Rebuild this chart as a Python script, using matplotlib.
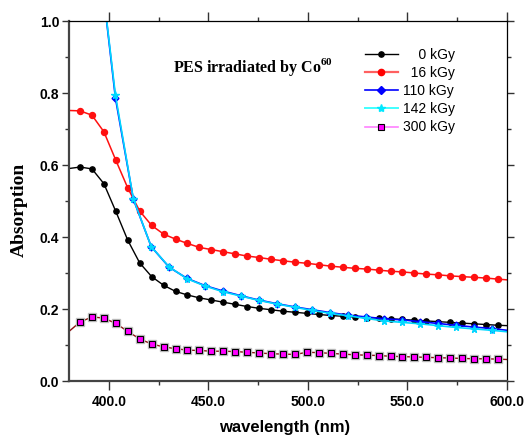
import numpy as np
import matplotlib
matplotlib.use('Agg')
import matplotlib.pyplot as plt
from matplotlib.lines import Line2D

plt.rcParams['mathtext.fontset'] = 'custom'
plt.rcParams['mathtext.rm'] = 'Liberation Serif'
plt.rcParams['mathtext.bf'] = 'Liberation Serif:bold'

# wavelength grids of the markers (nm)
wl6 = np.arange(385.5, 600, 6.0)      # 0, 16, 300 kGy
wl9 = np.arange(403.3, 600, 9.0)      # 110, 142 kGy

# 0 kGy
a0 = [0.595, 0.590, 0.549, 0.472, 0.392, 0.329, 0.291, 0.267, 0.250, 0.240,
      0.232, 0.226, 0.220, 0.214, 0.208, 0.203, 0.199, 0.195, 0.192, 0.189,
      0.186, 0.183, 0.181, 0.179, 0.177, 0.176, 0.174, 0.172, 0.170, 0.168,
      0.166, 0.164, 0.162, 0.160, 0.158, 0.156]
a0_ends = (0.591, 0.155)
# 16 kGy
a16 = [0.751, 0.739, 0.693, 0.614, 0.537, 0.473, 0.433, 0.409, 0.395, 0.383,
       0.372, 0.366, 0.360, 0.354, 0.348, 0.344, 0.339, 0.335, 0.331, 0.328,
       0.324, 0.320, 0.317, 0.314, 0.312, 0.309, 0.306, 0.304, 0.301, 0.298,
       0.296, 0.293, 0.291, 0.289, 0.287, 0.284]
a16_ends = (0.752, 0.282)
# 110 kGy
a110 = [0.787, 0.506, 0.374, 0.317, 0.286, 0.266, 0.251, 0.238, 0.226, 0.216,
        0.207, 0.199, 0.191, 0.184, 0.179, 0.174, 0.171, 0.166, 0.161, 0.156,
        0.151, 0.147]
a110_ends = (1.22, 0.142)
# 142 kGy
a142 = [0.795, 0.507, 0.374, 0.318, 0.285, 0.265, 0.249, 0.237, 0.225, 0.215,
        0.206, 0.197, 0.189, 0.182, 0.175, 0.168, 0.164, 0.160, 0.155, 0.150,
        0.146, 0.142]
a142_ends = (1.22, 0.138)
# 300 kGy
a300 = [0.165, 0.179, 0.176, 0.161, 0.139, 0.118, 0.104, 0.096, 0.091, 0.087,
        0.086, 0.084, 0.084, 0.083, 0.081, 0.079, 0.077, 0.076, 0.075, 0.081,
        0.080, 0.078, 0.076, 0.074, 0.073, 0.072, 0.070, 0.069, 0.068, 0.067,
        0.066, 0.065, 0.064, 0.063, 0.063, 0.062]
a300_ends = (0.139, 0.061)

labels = ['\u2007\u20070 kGy', '\u200716 kGy', '110 kGy', '142 kGy', '300 kGy']


def full(grid, vals, ends, x0):
    x = np.concatenate([[x0], grid, [600.0]])
    y = np.concatenate([[ends[0]], vals, [ends[1]]])
    return x, y, list(range(1, len(grid) + 1))


fig = plt.figure(figsize=(5.27, 4.40), dpi=100)
ax = fig.add_axes([0.131, 0.133, 0.831, 0.819])

x, y, me = full(wl6, a0, a0_ends, 380.0)
ax.plot(x, y, color='black', lw=1.0, marker='o', ms=3.8, markevery=me)
x, y, me = full(wl6, a16, a16_ends, 380.0)
ax.plot(x, y, color='#ff1010', lw=1.1, marker='o', ms=4.3, markevery=me)
x, y, me = full(wl9, a110, a110_ends, 394.3)
ax.plot(x, y, color='#0000ff', lw=1.2, marker='D', ms=3.5, markevery=me)
x, y, me = full(wl9, a142, a142_ends, 394.3)
ax.plot(x, y, color='#00d8ff', lw=1.2, marker='*', ms=5.5, markevery=me)
x, y, me = full(wl6, a300, a300_ends, 380.0)
ax.plot(x, y, color='#8b1010', lw=1.0)
ax.plot(wl6, a300, ls='none', marker='s', ms=6.0, color='#c0c0c0')
ax.plot(wl6, a300, ls='none', marker='s', ms=3.8, mfc='#ff00ff', mec='black', mew=0.8)

ax.set_xlim(380, 600)
ax.set_ylim(0.0, 1.0)
ax.set_xticks([400, 450, 500, 550, 600])
ax.set_xticks([425, 475, 525, 575], minor=True)
ax.set_yticks([0.0, 0.2, 0.4, 0.6, 0.8, 1.0])
ax.set_yticks([0.1, 0.3, 0.5, 0.7, 0.9], minor=True)
ax.set_xticklabels(['%.1f' % v for v in [400, 450, 500, 550, 600]])
ax.set_yticklabels(['%.1f' % v for v in [0.0, 0.2, 0.4, 0.6, 0.8, 1.0]])
for t in ax.get_xticklabels() + ax.get_yticklabels():
    t.set_fontfamily('Liberation Sans')
    t.set_fontweight('bold')
    t.set_fontsize(10)

ax.tick_params(which='both', direction='out', top=True, right=True,
               labeltop=False, labelright=False, color='#333333')
ax.tick_params(which='major', length=5, width=1.0, pad=2)
ax.tick_params(which='minor', length=3, width=1.0)
ax.tick_params(axis='x', which='major', length=6.5, pad=3)
for s in ['left', 'bottom']:
    ax.spines[s].set_linewidth(1.6)
    ax.spines[s].set_color('#444444')
for s in ['top', 'right']:
    ax.spines[s].set_linewidth(0.9)
    ax.spines[s].set_color('black')

ax.set_xlabel('wavelength (nm)', family='Liberation Sans', weight='bold', fontsize=12)
ax.xaxis.set_label_coords(0.493, -0.108)
ax.xaxis.label.set_va('top')
ax.set_ylabel('Absorption', family='Liberation Serif', weight='bold', fontsize=14)
ax.yaxis.set_label_coords(-0.094, 0.476)

ax.text(0.237, 0.859, r'PES irradiated by Co$^{\mathbf{60}}$', transform=ax.transAxes,
        family='Liberation Serif', weight='bold', fontsize=11.5, va='baseline', ha='left')

handles = [
    Line2D([], [], color='black', lw=1.0, marker='o', ms=3.8),
    Line2D([], [], color='#ff6060', lw=1.6, marker='o', ms=4.5, mfc='#ff0000', mec='#ff0000'),
    Line2D([], [], color='#0000ff', lw=1.2, marker='D', ms=4),
    Line2D([], [], color='#40ffff', lw=1.4, marker='*', ms=6, mfc='#00e8ff', mec='#00e8ff'),
    Line2D([], [], color='#ff80ff', lw=1.2, marker='s', ms=4, mfc='#ff00ff', mec='black', mew=0.8),
]
leg = ax.legend(handles, labels, loc='upper left', bbox_to_anchor=(0.676, 0.926),
                frameon=False, borderpad=0, borderaxespad=0, handlelength=2.35,
                handletextpad=0.35, labelspacing=0.3,
                prop={'family': ['Liberation Sans', 'DejaVu Sans'], 'size': 10})

fig.savefig('out.png', dpi=100)
